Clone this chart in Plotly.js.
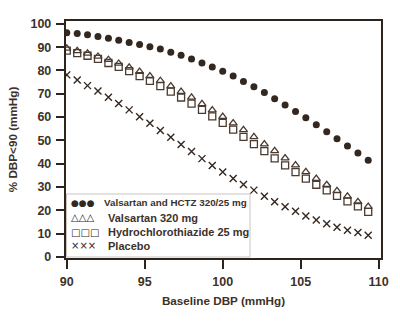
<!DOCTYPE html>
<html>
<head>
<meta charset="utf-8">
<script src="https://cdn.plot.ly/plotly-3.0.1.min.js"></script>
<style>
  html, body { margin: 0; padding: 0; background: #fff; }
  #chart { width: 400px; height: 329px; }
</style>
</head>
<body>
<div id="chart"></div>
<script>
// Baseline diastolic blood pressure (mmHg)
const baselineDBP = [90, 90.67, 91.33, 92, 92.67, 93.33, 94, 94.67, 95.33, 96,
  96.67, 97.33, 98, 98.67, 99.33, 100, 100.67, 101.33, 102, 102.67,
  103.33, 104, 104.67, 105.33, 106, 106.67, 107.33, 108, 108.67, 109.33];

// % of patients reaching DBP < 90 mmHg
const combo = [96.2, 95.8, 95.3, 94.6, 93.8, 92.9, 92.0, 91.1, 90.2, 89.2,
  87.8, 86.5, 84.9, 83.2, 81.5, 79.7, 77.6, 75.3, 73.0, 70.5,
  67.9, 65.2, 62.4, 59.7, 56.7, 53.7, 50.7, 47.6, 44.6, 41.5];
const valsartan = [89.5, 88.4, 87.3, 86.0, 84.6, 83.0, 81.3, 79.5, 77.6, 75.6,
  73.3, 70.9, 68.5, 65.7, 63.0, 60.2, 57.4, 54.5, 51.5, 48.4,
  45.5, 42.4, 39.4, 36.5, 33.6, 31.0, 28.4, 26.0, 23.7, 21.6];
const hctz = [88.5, 87.4, 86.3, 85.0, 83.2, 81.5, 79.7, 77.6, 75.5, 73.3,
  70.9, 68.4, 65.8, 63.1, 60.3, 57.5, 54.6, 51.5, 48.4, 45.4,
  42.3, 39.3, 36.4, 33.6, 31.0, 28.6, 26.2, 23.9, 21.7, 19.4];
const placebo = [78.1, 75.9, 73.5, 71.2, 68.5, 65.8, 63.1, 60.2, 57.4, 54.3,
  51.4, 48.3, 45.3, 42.2, 39.3, 36.5, 33.7, 31.1, 28.7, 26.1,
  23.7, 21.6, 19.6, 17.6, 15.9, 14.3, 12.8, 11.5, 10.5, 9.4];

const seriesNames = ['Valsartan and HCTZ 320/25 mg', 'Valsartan 320 mg',
  'Hydrochlorothiazide 25 mg', 'Placebo'];
const legendGlyphs = ['\u25CF\u25CF\u25CF', '\u25B3\u25B3\u25B3', '\u25A1\u25A1\u25A1', '\u00D7\u00D7\u00D7'];

const xTicks = [90, 95, 100, 105, 110];
const yTicks = [0, 10, 20, 30, 40, 50, 60, 70, 80, 90, 100];

const ink = '#33271f';
const textInk = '#3d3129';
const sans = 'Liberation Sans, Arial, sans-serif';

const traces = [
  { x: baselineDBP, y: combo, mode: 'markers', name: seriesNames[0],
    marker: { symbol: 'circle', size: 7, color: ink } },
  { x: baselineDBP, y: valsartan, mode: 'markers', name: seriesNames[1],
    marker: { symbol: 'triangle-up-open', size: 7, color: '#4a3a30', line: { width: 1.3 } } },
  { x: baselineDBP, y: hctz, mode: 'markers', name: seriesNames[2],
    marker: { symbol: 'square-open', size: 7, color: '#4a3a30', line: { width: 1.3 } } },
  { x: baselineDBP, y: placebo, mode: 'markers', name: seriesNames[3],
    marker: { symbol: 'x-thin-open', size: 7, color: ink, line: { width: 1.4, color: ink } } }
];

// plot area in pixels: left 66, right 381, top 21, bottom 258
const plotL = 66, plotR = 381, plotT = 21, plotB = 258;
const px = v => (v - plotL) / (plotR - plotL);
const py = v => (plotB - v) / (plotB - plotT);

// hand-drawn key in the lower-left corner of the plot
const rowY = [202.5, 217.5, 232, 245.5];
const annotations = [];
rowY.forEach((yy, i) => {
  annotations.push({
    xref: 'paper', yref: 'paper', x: px(69), y: py(yy), xanchor: 'left', yanchor: 'middle',
    text: legendGlyphs[i], showarrow: false,
    font: { family: 'DejaVu Sans', size: i === 0 ? 9 : 10, color: ink }
  });
  annotations.push({
    xref: 'paper', yref: 'paper', x: px(i === 0 ? 102 : 106), y: py(yy), xanchor: 'left', yanchor: 'middle',
    text: '<b>' + seriesNames[i] + '</b>', showarrow: false,
    font: { family: sans, size: i === 0 ? 9.8 : 11, color: textInk }
  });
});

const layout = {
  width: 400, height: 329,
  margin: { l: plotL, r: 400 - plotR, t: plotT, b: 329 - plotB },
  paper_bgcolor: '#fff', plot_bgcolor: '#fff',
  showlegend: false,
  font: { family: sans, color: textInk },
  xaxis: {
    range: [89.95, 110.15], tickvals: xTicks, ticktext: xTicks.map(String),
    ticks: 'outside', ticklen: 9, tickwidth: 2, tickcolor: '#2e241e',
    ticklabelstandoff: 2,
    showline: true, linewidth: 2.2, linecolor: '#2e241e', mirror: true,
    showgrid: false, zeroline: false,
    tickfont: { family: sans, size: 12.5, color: textInk, weight: 'bold' },
    title: { text: '<b>Baseline DBP (mmHg)</b>', standoff: 9,
             font: { family: sans, size: 11.7, color: textInk } }
  },
  yaxis: {
    range: [-0.4, 101.2], tickvals: yTicks, ticktext: yTicks.map(String),
    ticks: 'outside', ticklen: 8, tickwidth: 2, tickcolor: '#2e241e',
    ticklabelstandoff: 2,
    showline: true, linewidth: 2.2, linecolor: '#2e241e', mirror: true,
    showgrid: false, zeroline: false,
    tickfont: { family: sans, size: 12.5, color: textInk, weight: 'bold' },
    title: { text: '<b>% DBP<90 (mmHg)</b>', standoff: 10,
             font: { family: sans, size: 11.7, color: textInk } }
  },
  shapes: [{
    type: 'rect', xref: 'paper', yref: 'paper',
    x0: px(66.5), x1: px(250), y0: py(257), y1: py(194),
    fillcolor: '#fff', line: { color: '#c9c4c0', width: 1 }, layer: 'above'
  }],
  annotations: annotations
};

Plotly.newPlot('chart', traces, layout, { displayModeBar: false, staticPlot: true });
</script>
</body>
</html>
